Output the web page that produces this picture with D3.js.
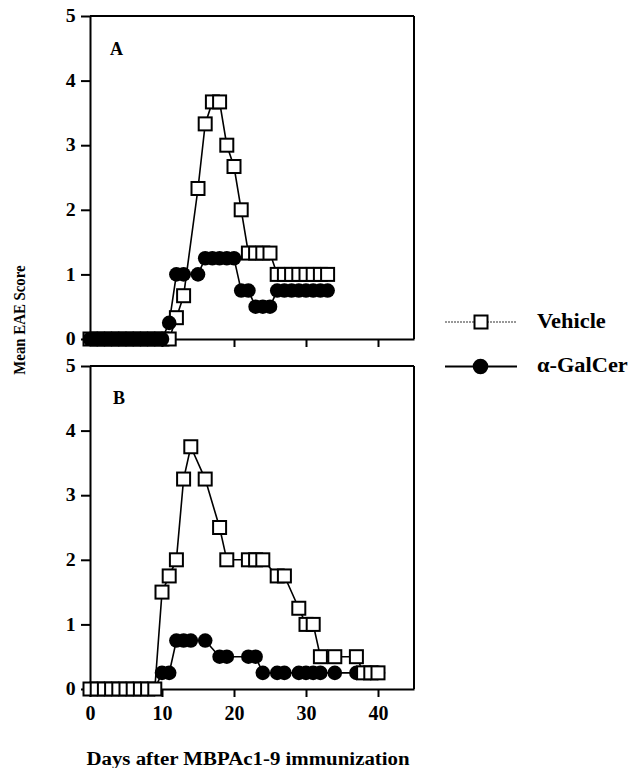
<!DOCTYPE html>
<html>
<head>
<meta charset="utf-8">
<script src="https://cdn.jsdelivr.net/npm/d3@7"></script>
<style>
  body { margin: 0; background: #fff; }
  svg { display: block; }
  text { font-family: 'Liberation Serif', 'DejaVu Serif', serif; font-weight: bold; fill: #000; }
  .axis path, .axis line { stroke: #000; stroke-width: 2; }
</style>
</head>
<body>
<div id="chart"></div>
<script>
// panel A: days scored and mean EAE score per group
var daysA = [0, 1, 2, 3, 4, 5, 6, 7, 8, 9, 10, 11, 12, 13, 15, 16, 17, 18, 19, 20, 21, 22, 23, 24, 25, 26, 27, 28, 29, 30, 31, 32, 33];
var vehicleA = [0, 0, 0, 0, 0, 0, 0, 0, 0, 0, 0, 0, 0.33, 0.67, 2.33, 3.33, 3.67, 3.67, 3, 2.67, 2, 1.33, 1.33, 1.33, 1.33, 1, 1, 1, 1, 1, 1, 1, 1];
var galcerA = [0, 0, 0, 0, 0, 0, 0, 0, 0, 0, 0, 0.25, 1, 1, 1, 1.25, 1.25, 1.25, 1.25, 1.25, 0.75, 0.75, 0.5, 0.5, 0.5, 0.75, 0.75, 0.75, 0.75, 0.75, 0.75, 0.75, 0.75];

// panel B
var daysB = [0, 1, 2, 3, 4, 5, 6, 7, 8, 9, 10, 11, 12, 13, 14, 16, 18, 19, 22, 23, 24, 26, 27, 29, 30, 31, 32, 34, 37, 38, 39, 40];
var vehicleB = [0, 0, 0, 0, 0, 0, 0, 0, 0, 0, 1.5, 1.75, 2, 3.25, 3.75, 3.25, 2.5, 2, 2, 2, 2, 1.75, 1.75, 1.25, 1, 1, 0.5, 0.5, 0.5, 0.25, 0.25, 0.25];
var galcerB = [0, 0, 0, 0, 0, 0, 0, 0, 0, 0, 0.25, 0.25, 0.75, 0.75, 0.75, 0.75, 0.5, 0.5, 0.5, 0.5, 0.25, 0.25, 0.25, 0.25, 0.25, 0.25, 0.25, 0.25, 0.25, 0.25, 0.25, 0.25];

var yTicks = [0, 1, 2, 3, 4, 5];
var xTicks = [0, 10, 20, 30, 40];
var seriesNames = ['Vehicle', '\u03b1-GalCer'];

var W = 632, H = 768;
var svg = d3.select('#chart').append('svg').attr('width', W).attr('height', H);

var x = d3.scaleLinear().domain([0, 45]).range([90, 414]);
var yA = d3.scaleLinear().domain([0, 5]).range([339, 16]);
var yB = d3.scaleLinear().domain([0, 5]).range([689, 366]);

function drawPanel(days, veh, gal, y, label, showXLabels, squaresOnTop) {
  var g = svg.append('g');
  var top = y.range()[1], bottom = y.range()[0];

  // frame: top and right edges
  g.append('line').attr('x1', x(0)).attr('x2', x(45)).attr('y1', top).attr('y2', top)
    .attr('stroke', '#000').attr('stroke-width', 2);
  g.append('line').attr('x1', x(45)).attr('x2', x(45)).attr('y1', top).attr('y2', bottom)
    .attr('stroke', '#000').attr('stroke-width', 2);

  var xAxis = d3.axisBottom(x).tickValues(showXLabels ? xTicks : xTicks.slice(1))
    .tickSizeInner(8).tickSizeOuter(0).tickPadding(9)
    .tickFormat(showXLabels ? d3.format('d') : '');
  g.append('g').attr('class', 'axis').attr('transform', 'translate(0,' + bottom + ')')
    .call(xAxis)
    .selectAll('text').style('font-size', '20px');

  var yAxis = d3.axisLeft(y).tickValues(yTicks).tickSizeInner(9).tickSizeOuter(0).tickPadding(4)
    .tickFormat(d3.format('d'));
  g.append('g').attr('class', 'axis').attr('transform', 'translate(' + x(0) + ',0)')
    .call(yAxis)
    .selectAll('text').style('font-size', '18px').attr('transform', 'scale(1.1,1)');
  g.selectAll('.domain').attr('stroke-width', 2);

  g.append('text').attr('x', label === 'A' ? 110 : 113).attr('y', top + (label === 'A' ? 39 : 38))
    .style('font-size', '18px').text(label);

  var rowsV = days.map(function(d, i) { return [d, veh[i]]; });
  var rowsG = days.map(function(d, i) { return [d, gal[i]]; });
  var line = d3.line().x(function(d) { return x(d[0]); }).y(function(d) { return y(d[1]); });

  g.append('path').datum(rowsV).attr('d', line).attr('fill', 'none')
    .attr('stroke', '#000').attr('stroke-width', 1.6);
  g.append('path').datum(rowsG).attr('d', line).attr('fill', 'none')
    .attr('stroke', '#000').attr('stroke-width', 1.6);

  function squares() {
    g.append('g').selectAll('rect').data(rowsV).enter().append('rect')
      .attr('x', function(d) { return x(d[0]) - 6.5; })
      .attr('y', function(d) { return y(d[1]) - 6.5; })
      .attr('width', 13).attr('height', 13)
      .attr('fill', '#fff').attr('stroke', '#000').attr('stroke-width', 2);
  }
  function circles() {
    g.append('g').selectAll('circle').data(rowsG).enter().append('circle')
      .attr('cx', function(d) { return x(d[0]); })
      .attr('cy', function(d) { return y(d[1]); })
      .attr('r', 7.3).attr('fill', '#000');
  }
  if (squaresOnTop) { circles(); squares(); } else { squares(); circles(); }
}

drawPanel(daysA, vehicleA, galcerA, yA, 'A', false, false);
drawPanel(daysB, vehicleB, galcerB, yB, 'B', true, true);

// legend
var legend = svg.append('g');
legend.append('line').attr('x1', 445).attr('x2', 517).attr('y1', 322).attr('y2', 322)
  .attr('stroke', '#333').attr('stroke-width', 1.2).attr('stroke-dasharray', '2,1');
legend.append('rect').attr('x', 474.5).attr('y', 315.5).attr('width', 13).attr('height', 13)
  .attr('fill', '#fff').attr('stroke', '#000').attr('stroke-width', 2);
legend.append('line').attr('x1', 445).attr('x2', 517).attr('y1', 366.5).attr('y2', 366.5)
  .attr('stroke', '#000').attr('stroke-width', 1.8);
legend.append('circle').attr('cx', 480.5).attr('cy', 366.5).attr('r', 7.8).attr('fill', '#000');
legend.selectAll('text.lab').data(seriesNames).enter().append('text')
  .attr('class', 'lab')
  .attr('transform', function(d, i) { return 'translate(537,' + (i === 0 ? 327.5 : 372) + ') scale(1.12,1)'; })
  .style('font-size', '20px')
  .text(function(d) { return d; });

// axis titles
svg.append('text').attr('transform', 'translate(25,320) rotate(-90) scale(0.9,1)')
  .attr('text-anchor', 'middle').style('font-size', '16.5px').text('Mean EAE Score');
svg.append('text').attr('transform', 'translate(248,765) scale(1.16,1)')
  .attr('text-anchor', 'middle').style('font-size', '18px').text('Days after MBPAc1-9 immunization');
</script>
</body>
</html>
